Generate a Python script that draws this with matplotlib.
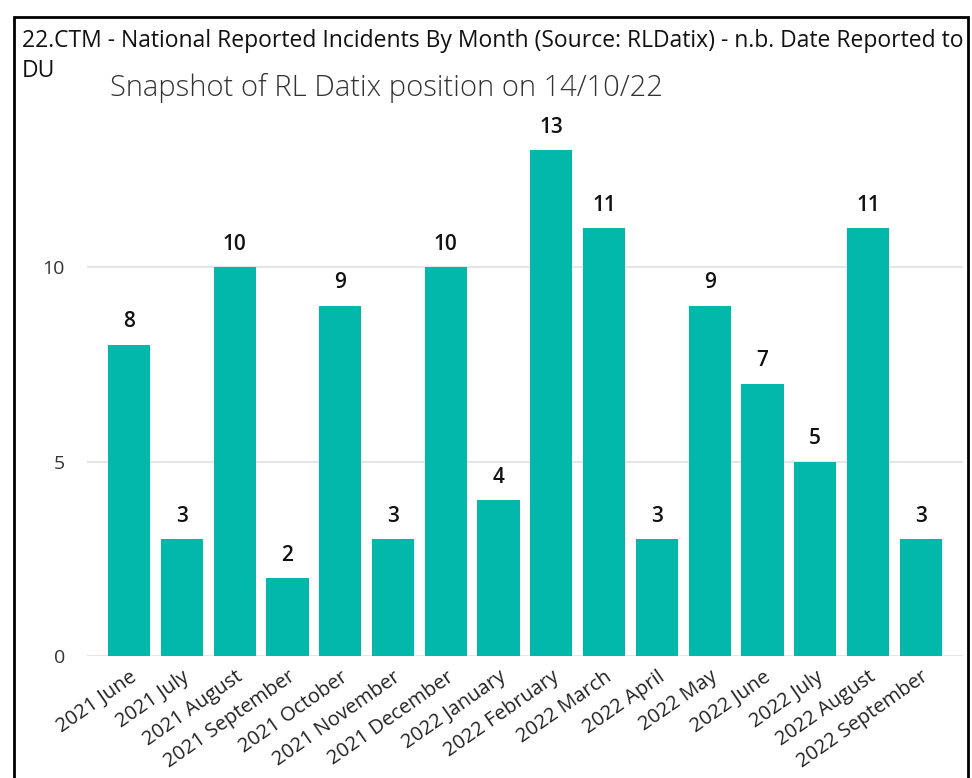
import matplotlib
matplotlib.use("Agg")
from matplotlib import pyplot as plt
from matplotlib.patches import Rectangle

# data
months = ["2021 June", "2021 July", "2021 August", "2021 September",
          "2021 October", "2021 November", "2021 December", "2022 January",
          "2022 February", "2022 March", "2022 April", "2022 May",
          "2022 June", "2022 July", "2022 August", "2022 September"]
incidents = [8, 3, 10, 2, 9, 3, 10, 4, 13, 11, 3, 9, 7, 5, 11, 3]
yticks = [0, 5, 10]

teal = "#01B8AA"
plt.rcParams["font.family"] = ["Open Sans", "DejaVu Sans"]

fig = plt.figure(figsize=(9.72, 7.78), dpi=100)
ax = fig.add_axes([0.0895, 0.1568, 0.9012, 0.70])

x = range(len(months))
bars = ax.bar(x, incidents, width=0.8, color=teal, zorder=3)
for b, v in zip(bars, incidents):
    ax.annotate(str(v), xy=(b.get_x() + b.get_width() / 2, v),
                xytext=(0, 9), textcoords="offset points",
                ha="center", va="bottom", fontsize=15, fontweight="semibold",
                color="#111111")

ax.set_xlim(-0.8, len(months) - 0.2)
ax.set_ylim(0, 14)
ax.set_yticks(yticks)
ax.set_yticklabels([str(t) for t in yticks], fontsize=14, color="#333333")
ax.set_xticks(list(x))
ax.set_xticklabels(months, rotation=35, ha="right", rotation_mode="anchor",
                   fontsize=14.5, color="#222222")
ax.tick_params(axis="both", length=0)
ax.tick_params(axis="y", pad=16)
ax.tick_params(axis="x", pad=8)
for s in ax.spines.values():
    s.set_visible(False)
ax.grid(axis="y", color="#e6e6e6", linewidth=1.5, zorder=0)
ax.set_axisbelow(True)

fig.text(22 / 972, 1 - 41 / 778, "22.CTM - National Reported Incidents By Month (Source: RLDatix) - n.b. Date Reported to",
         fontsize=16.5, va="center", ha="left", color="#111111")
fig.text(22 / 972, 1 - 71 / 778, "DU", fontsize=16.5, va="center", ha="left",
         color="#111111")
fig.text(110 / 972, 1 - 88 / 778, "Snapshot of RL Datix position on 14/10/22",
         fontsize=21, va="center", ha="left", color="#333333",
         fontweight="light")

# black frame around the visual
fig.patches.append(Rectangle((14 / 972, -0.01), (968 - 14) / 972, 1 - 17 / 778 + 0.01,
                             transform=fig.transFigure, fill=False,
                             edgecolor="black", linewidth=2))

plt.savefig("out.png", dpi=100)
